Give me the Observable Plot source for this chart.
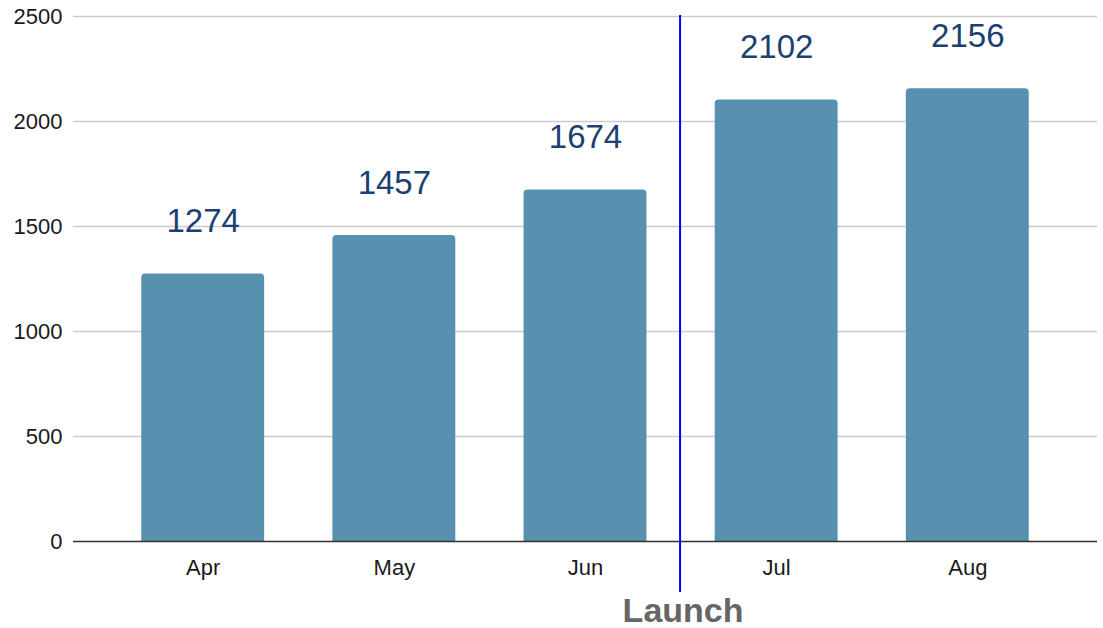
<!DOCTYPE html>
<html>
<head>
<meta charset="utf-8">
<script src="https://cdn.jsdelivr.net/npm/d3@7"></script>
<script src="https://cdn.jsdelivr.net/npm/@observablehq/plot@0.6"></script>
<style>
  html, body { margin: 0; padding: 0; background: #fff; }
  #chart svg { display: block; }
</style>
</head>
<body>
<div id="chart"></div>
<script>
const months = ["Apr", "May", "Jun", "Jul", "Aug"];
const values = [1274, 1457, 1674, 2102, 2156];
const yTicks = [0, 500, 1000, 1500, 2000, 2500];
const launchMonth = "Jul";
const launchLabel = "Launch";

const data = months.map((m, i) => ({month: m, value: values[i]}));

const W = 1103, H = 628;
const mL = 73, mR = 6, mT = 16, mB = 87;
const pad = 0.357;
const step = (W - mL - mR) / (months.length + pad);

const chart = Plot.plot({
  width: W,
  height: H,
  marginLeft: mL,
  marginRight: mR,
  marginTop: mT,
  marginBottom: mB,
  style: {fontFamily: "'Liberation Sans', Arial, sans-serif", fontSize: "22px", color: "#222", background: "#fff"},
  x: {domain: months, padding: pad, round: false},
  y: {domain: [0, 2500]},
  marks: [
    Plot.ruleY(yTicks.filter(d => d > 0), {stroke: "#ccc", strokeWidth: 1.3}),
    Plot.barY(data, {x: "month", y: "value", fill: "#5891af", ry1: 4}),
    Plot.ruleY([0], {stroke: "#333", strokeWidth: 1.3}),
    Plot.axisX({label: null, tickSize: 0, tickPadding: 18, fontSize: 22, fill: "#1a1a1a"}),
    Plot.axisY({ticks: yTicks, tickFormat: "d", label: null, tickSize: 0, tickPadding: 11, fontSize: 22, fill: "#1a1a1a"}),
    Plot.text(data, {x: "month", y: "value", text: d => String(d.value), lineAnchor: "bottom", dy: -42, fontSize: 33, fill: "#1c4170"}),
    Plot.ruleX([launchMonth], {dx: -step / 2 - 1, stroke: "#0000ff", strokeWidth: 2, insetTop: -1, insetBottom: -51}),
    Plot.text([launchLabel], {x: () => launchMonth, frameAnchor: "bottom", dx: -step / 2 + 2, dy: 80, lineAnchor: "bottom", fontSize: 34, fontWeight: "bold", fill: "#666", text: d => d})
  ]
});
document.getElementById("chart").appendChild(chart);
</script>
</body>
</html>
